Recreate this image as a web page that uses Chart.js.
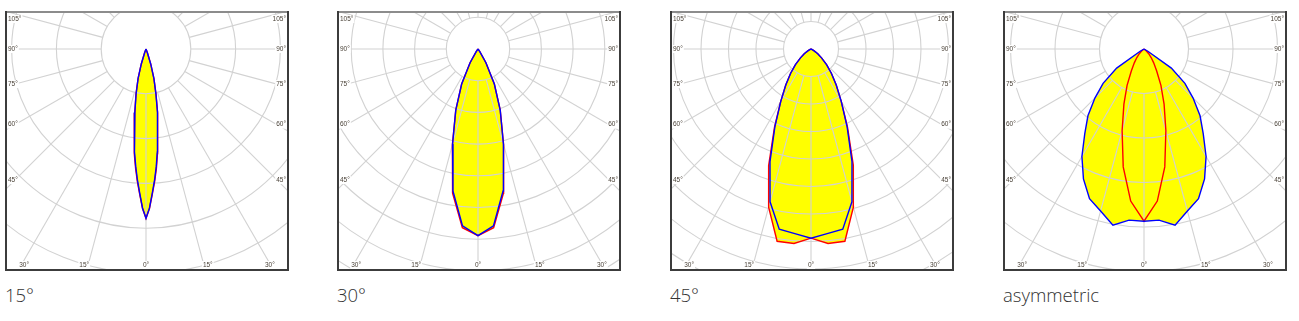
<!DOCTYPE html>
<html>
<head>
<meta charset="utf-8">
<script src="https://cdn.jsdelivr.net/npm/chart.js@4.4.1/dist/chart.umd.min.js"></script>
<style>
  body { margin: 0; background: #fff; width: 1299px; height: 321px; position: relative; overflow: hidden; }
  .panel { position: absolute; top: 11px; width: 284px; height: 260px; }
  .title { position: absolute; top: 282px; font-family: "Open Sans", sans-serif; font-weight: 300; font-size: 18.5px; color: #333; }
</style>
</head>
<body>
<div class="panel" style="left:5px"><canvas id="c0" width="284" height="260"></canvas></div>
<div class="panel" style="left:337px"><canvas id="c1" width="284" height="260"></canvas></div>
<div class="panel" style="left:670px"><canvas id="c2" width="284" height="260"></canvas></div>
<div class="panel" style="left:1003px"><canvas id="c3" width="284" height="260"></canvas></div>
<div class="title" style="left:5px">15°</div>
<div class="title" style="left:337px">30°</div>
<div class="title" style="left:670px">45°</div>
<div class="title" style="left:1003px">asymmetric</div>
<script>
    // подписи и шкала углов
    const titles = ['15°', '30°', '45°', 'asymmetric'];
    const sideTicks = [45, 60, 75, 90, 105];
    const bottomTicks = [0, 15, 30];
    const ringStep = [2000, 500, 250, 200]; // cd/klm на одно кольцо

    // 15° (угол от надира, cd/klm)
    const angles15 = [0, 1.25, 2.5, 3.75, 5, 6.25, 7.5, 8.75, 10, 12.5, 15, 17.5, 20, 22.5];
    const c90_15 = [7560, 7100, 6440, 5860, 5260, 4620, 3980, 3420, 2860, 2040, 1360, 700, 180, 0];
    const c0_15 = [7560, 7120, 6480, 5920, 5340, 4700, 4060, 3470, 2900, 2060, 1360, 700, 180, 0];

    // 30°
    const angles30 = [0, 5, 10, 15, 20, 25, 30, 35, 40];
    const c90_30 = [2945, 2800, 2275, 1550, 1025, 610, 250, 50, 0];
    const c0_30 = [2945, 2830, 2310, 1560, 1025, 610, 250, 50, 0];

    // 45°
    const angles45 = [0, 5, 10, 15, 20, 25, 30, 35, 40, 45, 50, 55, 60, 65, 70];
    const c90_45 = [1720, 1685, 1663, 1438, 1090, 775, 550, 400, 288, 200, 125, 75, 30, 8, 0];
    const c0_45 = [1720, 1775, 1775, 1488, 1125, 785, 550, 400, 288, 200, 125, 75, 30, 8, 0];

    // asymmetric
    const anglesAsym = [0, 5, 10, 15, 20, 25, 30, 35, 40, 45, 50, 55, 60, 65];
    const c90_asym = [774, 772, 804, 754, 716, 644, 558, 464, 392, 312, 240, 150, 20, 0];
    const c0_asym = [774, 686, 538, 380, 264, 180, 114, 76, 50, 30, 14, 0, 0, 0];

    const panels = [
        { angles: angles15, blue: c90_15, red: c0_15, ringPx: 44.8 },
        { angles: angles30, blue: c90_30, red: c0_30, ringPx: 31.7 },
        { angles: angles45, blue: c90_45, red: c0_45, ringPx: 27.5 },
        { angles: anglesAsym, blue: c90_asym, red: c0_asym, ringPx: 44.5 }
    ];

    // центр диаграммы внутри рамки
    const CX = 141, CY = 38, W = 284, H = 260;

    // полярные значения -> точки x/y (0° вниз)
    function polarPoints(angles, values) {
        const pts = [];
        for (let i = angles.length - 1; i >= 0; i--) {
            const a = angles[i] * Math.PI / 180;
            pts.push({ x: -values[i] * Math.sin(a), y: -values[i] * Math.cos(a) });
        }
        for (let i = 1; i < angles.length; i++) {
            const a = angles[i] * Math.PI / 180;
            pts.push({ x: values[i] * Math.sin(a), y: -values[i] * Math.cos(a) });
        }
        return pts;
    }

    // сетка: кольца, лучи и подписи углов
    const polarGrid = {
        id: 'polarGrid',
        beforeDatasetsDraw(chart, args, opts) {
            const { ctx, chartArea: area, scales: { x, y } } = chart;
            const cx = x.getPixelForValue(0);
            const cy = y.getPixelForValue(0);
            const ring = x.getPixelForValue(opts.step) - cx;
            ctx.save();
            ctx.beginPath();
            ctx.rect(area.left, area.top, area.right - area.left, area.bottom - area.top);
            ctx.clip();
            ctx.strokeStyle = '#d2d2d2';
            ctx.lineWidth = 1.1;
            for (let k = 1; k <= 12; k++) {
                ctx.beginPath();
                ctx.arc(cx, cy, k * ring, 0, Math.PI * 2);
                ctx.stroke();
            }
            for (let a = 0; a < 360; a += 15) {
                const r = a * Math.PI / 180;
                ctx.beginPath();
                ctx.moveTo(cx + Math.sin(r) * ring, cy + Math.cos(r) * ring);
                ctx.lineTo(cx + Math.sin(r) * 600, cy + Math.cos(r) * 600);
                ctx.stroke();
            }
            ctx.restore();

            ctx.save();
            ctx.font = '6.5px "Liberation Sans", sans-serif';
            ctx.textBaseline = 'middle';
            const label = (text, tx, ty, align) => {
                ctx.textAlign = align;
                const w = ctx.measureText(text).width;
                const x0 = align === 'left' ? tx : align === 'right' ? tx - w : tx - w / 2;
                ctx.fillStyle = '#fff';
                ctx.fillRect(x0 - 1, ty - 4, w + 2, 8);
                ctx.fillStyle = '#4a4238';
                ctx.fillText(text, tx, ty);
            };
            sideTicks.forEach(t => {
                const r = t * Math.PI / 180;
                const dx = cx - area.left - 10;
                let ty = cy + dx * Math.cos(r) / Math.sin(r);
                ty = Math.max(area.top + 8, ty);
                label(t + '°', area.left + 3, ty, 'left');
                label(t + '°', area.right - 3, ty, 'right');
            });
            bottomTicks.forEach(t => {
                const r = t * Math.PI / 180;
                const ty = area.bottom - 6;
                const dx = (ty - cy) * Math.tan(r);
                if (t === 0) {
                    label('0°', cx, ty, 'center');
                } else {
                    label(t + '°', Math.max(area.left + 24, cx - dx + 1), ty, 'right');
                    label(t + '°', Math.min(area.right - 24, cx + dx - 1), ty, 'left');
                }
            });
            ctx.restore();
        },
        afterDraw(chart) {
            const { ctx, width, height } = chart;
            ctx.save();
            ctx.lineWidth = 2;
            ctx.strokeStyle = '#8c8c8c';
            ctx.beginPath(); ctx.moveTo(0, 1); ctx.lineTo(width, 1); ctx.stroke();
            ctx.strokeStyle = '#3c3c3c';
            ctx.beginPath(); ctx.moveTo(1, 0); ctx.lineTo(1, height); ctx.stroke();
            ctx.beginPath(); ctx.moveTo(width - 1, 0); ctx.lineTo(width - 1, height); ctx.stroke();
            ctx.beginPath(); ctx.moveTo(0, height - 1); ctx.lineTo(width, height - 1); ctx.stroke();
            ctx.restore();
        }
    };

    panels.forEach((p, i) => {
        const step = ringStep[i];
        const ppu = p.ringPx / step;
        new Chart(document.getElementById('c' + i), {
            type: 'scatter',
            data: {
                datasets: [
                    {
                        label: 'C90-C270',
                        data: polarPoints(p.angles, p.blue),
                        showLine: true,
                        borderColor: '#0000ff',
                        backgroundColor: '#ffff00',
                        borderWidth: 1.4,
                        pointRadius: 0,
                        tension: 0,
                        fill: 'shape'
                    },
                    {
                        label: 'C0-C180',
                        data: polarPoints(p.angles, p.red),
                        showLine: true,
                        borderColor: '#ff0000',
                        backgroundColor: '#ffff00',
                        borderWidth: 1.4,
                        pointRadius: 0,
                        tension: 0,
                        fill: 'shape'
                    }
                ]
            },
            options: {
                responsive: false,
                animation: false,
                events: [],
                layout: { padding: 0 },
                scales: {
                    x: { type: 'linear', display: false, min: -CX / ppu, max: (W - CX) / ppu },
                    y: { type: 'linear', display: false, min: -(H - CY) / ppu, max: CY / ppu }
                },
                plugins: {
                    legend: { display: false },
                    tooltip: { enabled: false },
                    filler: { drawTime: 'beforeDatasetsDraw' },
                    polarGrid: { step: step }
                }
            },
            plugins: [polarGrid]
        });
    });
</script>
</body>
</html>
